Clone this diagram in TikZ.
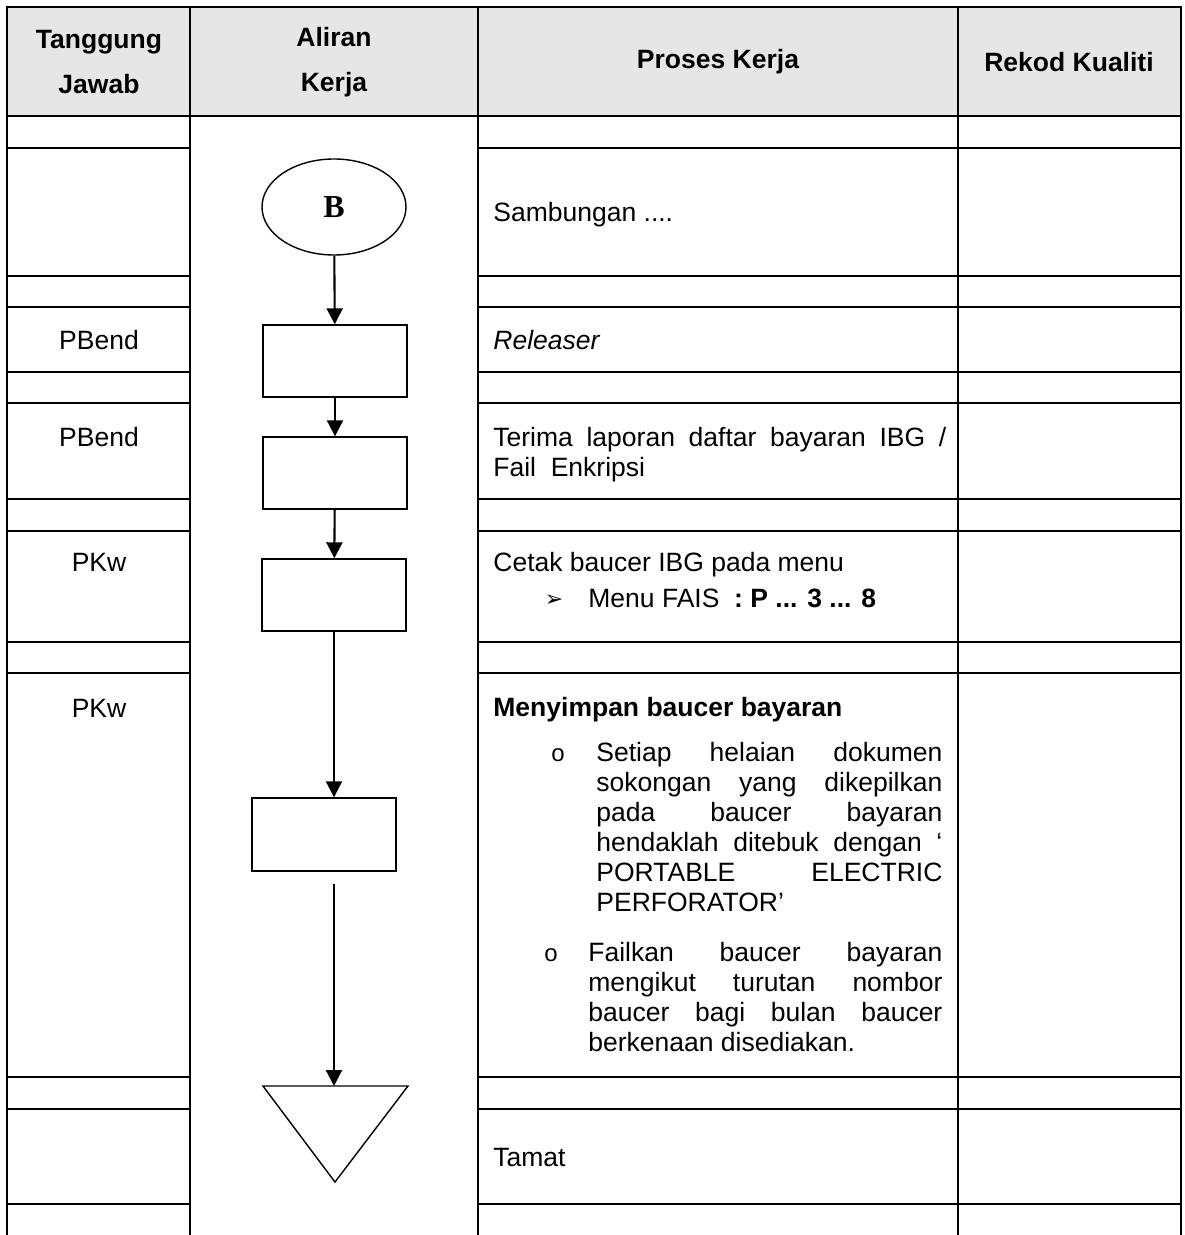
\documentclass[tikz,border=0pt]{standalone}
\usepackage{fontspec}
\setmainfont{Liberation Sans}
\newfontfamily\symfont{DejaVu Sans}
\newfontfamily\seriffont{Liberation Serif}
\usetikzlibrary{positioning, arrows.meta, shapes.geometric}
\definecolor{headgrey}{HTML}{E6E6E6}

\tikzset{
  tabline/.style={line width=0.95pt, line cap=rect},
  flowbox/.style={draw, line width=0.7pt, minimum width=72pt, minimum height=36pt, inner sep=0pt},
  flow/.style={line width=1.05pt, -{Triangle[length=8pt, width=8pt]}},
  head/.style={align=center, inner sep=0pt, font=\bfseries\fontsize{13.25}{22.5}\selectfont},
  cell/.style={anchor=base west, inner sep=0pt},
  who/.style={anchor=base, inner sep=0pt},
  dot/.style={anchor=base, inner sep=0pt, font=\fontsize{12}{12}\selectfont},
}

\begin{document}
\begin{tikzpicture}[x=0.5pt, y=-0.5pt, font=\fontsize{13.25}{15}\selectfont]
        \useasboundingbox (0,0) rectangle (1184,1235);

        % table frame
        \fill[headgrey] (7,7) rectangle (1181,116);
        \foreach \x in {7,190,478,958,1181}
          \draw[tabline] (\x,7) -- (\x,1235);
        \draw[tabline] (7,7) -- (1181,7);
        \draw[tabline] (7,116) -- (1181,116);
        \foreach \y in {148,276,307,372,403,499,531,642,673,1077,1109,1204} {
          \draw[tabline] (7,\y) -- (190,\y);
          \draw[tabline] (478,\y) -- (1181,\y);
        }

        \node[head] (h1) at (99,62) {Tanggung\\Jawab};
        \node[head] (h2) at (334,62) {Aliran\\Kerja};
        \node[head] (h3) at (718,62) {Proses Kerja};
        \node[head] (h4) at (1069,62) {Rekod Kualiti};

        % flow
        \node[draw, ellipse, line width=0.7pt, minimum width=72pt, minimum height=48pt, inner sep=0pt,
              font=\seriffont\bfseries\fontsize{16}{16}\selectfont] (start) at (334,207) {B};
        \node[flowbox] (release) at (335,361) {};
        \node[flowbox] (receive) at (335,473) {};
        \node[flowbox] (print) at (334,595) {};
        \node[flowbox, minimum height=36.5pt] (store) at (324,834.5) {};
        \coordinate (finish) at (334,1086);
        \draw[line width=0.7pt] (263,1086) -- (408,1086) -- (335,1182) -- cycle;

        \draw[flow] (start) -- (release);
        \draw[flow] (release) -- (receive);
        \draw[flow] (receive) -- (print);
        \draw[flow] (print.south) -- (print.south |- store.north);
        \draw[flow, shorten <=6pt] (store.south -| finish) -- (finish);

        % who
        \node[who] (pb1) at (99,349.5) {PBend};
        \node[who] (pb2) at (99,446.5) {PBend};
        \node[who] (pk1) at (99,571.5) {PKw};
        \node[who] (pk2) at (99,717.5) {PKw};

        % process text
        \node[cell] (cont) at (493,221.5) {Sambungan ....};
        \node[cell] (rel) at (493,349.5) {\itshape Releaser};
        \node[cell, text width=226.5pt, align=justify] (recv) at (493,446.5)
          {Terima laporan daftar bayaran IBG /\linebreak Fail\ \ Enkripsi};
        \node[cell] (prt) at (493,571.5) {Cetak baucer IBG pada menu};
        \node[who, font=\symfont\fontsize{11}{11}\selectfont] (menuarrow) at (554,606.5) {➢};
        \node[cell] (menu) at (588,607.5) {Menu FAIS\ \ \textbf{: P ... 3 ... 8}};
        \node[cell] (keep) at (493,716.5) {\bfseries Menyimpan baucer bayaran};
        \node[dot] (d1) at (558,761.5) {o};
        \node[cell, text width=173pt, align=justify] (keep1) at (596,761.5)
          {Setiap helaian dokumen\linebreak sokongan yang dikepilkan\linebreak pada baucer bayaran\linebreak
           hendaklah ditebuk dengan ‘\linebreak PORTABLE ELECTRIC\linebreak PERFORATOR’};
        \node[dot] (d2) at (551,961.5) {o};
        \node[cell, text width=177pt, align=justify] (keep2) at (588,961.5)
          {Failkan baucer bayaran\linebreak mengikut turutan nombor\linebreak baucer bagi bulan baucer\linebreak berkenaan disediakan.};
        \node[cell] (end) at (493,1166.5) {Tamat};
\end{tikzpicture}
\end{document}
